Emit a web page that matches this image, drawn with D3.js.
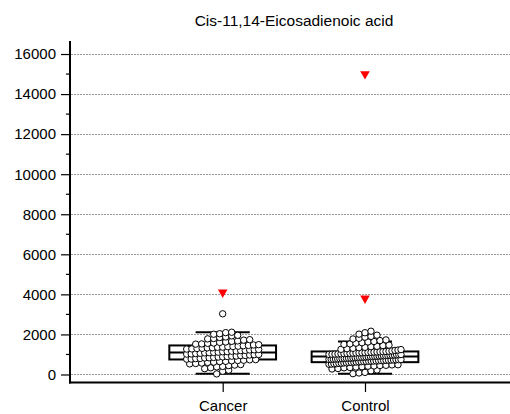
<!DOCTYPE html>
<html><head><meta charset="utf-8">
<script src="https://cdn.jsdelivr.net/npm/d3@7"></script>
<style>body{margin:0;background:#fff}svg{display:block}text{font-family:"Liberation Sans",Arial,sans-serif;fill:#000}</style>
</head><body>
<svg id="c" width="510" height="414"></svg>
<script>
const title = "Cis-11,14-Eicosadienoic acid";
const categories = ["Cancer", "Control"];
const cancerValues = [30, 160, 215, 290, 335, 380, 405, 445, 470, 495, 530, 548, 571, 604, 618, 644, 657, 683, 698, 712, 733, 741, 765, 772, 794, 801, 826, 833, 852, 870, 878, 899, 913, 921, 946, 951, 973, 988, 997, 1018, 1026, 1047, 1058, 1079, 1088, 1102, 1113, 1134, 1141, 1163, 1172, 1194, 1203, 1225, 1233, 1248, 1269, 1277, 1298, 1306, 1328, 1337, 1359, 1366, 1388, 1397, 1412, 1436, 1452, 1474, 1489, 1515, 1527, 1556, 1571, 1603, 1622, 1655, 1677, 1716, 1738, 1779, 1797, 1846, 1873, 1929, 1955, 2010, 2035, 2090, 2110, 3030];
const controlValues = [40, 75, 105, 185, 225, 275, 296, 334, 347, 372, 388, 414, 426, 447, 458, 479, 486, 508, 517, 533, 541, 556, 563, 578, 583, 597, 602, 616, 621, 633, 636, 646, 650, 661, 665, 672, 679, 687, 692, 699, 706, 713, 719, 726, 732, 738, 745, 751, 759, 763, 771, 778, 786, 791, 800, 806, 815, 819, 829, 834, 843, 851, 859, 867, 874, 883, 891, 898, 906, 913, 921, 928, 936, 943, 950, 958, 966, 972, 981, 988, 996, 1004, 1011, 1019, 1026, 1034, 1041, 1049, 1056, 1063, 1071, 1078, 1087, 1093, 1102, 1108, 1117, 1123, 1132, 1138, 1148, 1162, 1178, 1203, 1218, 1243, 1257, 1288, 1306, 1338, 1357, 1389, 1408, 1443, 1466, 1503, 1527, 1563, 1587, 1624, 1648, 1693, 1726, 1774, 1806, 1862, 1905, 1964, 2015, 2085, 2160];
const groupValues = [cancerValues, controlValues];
const whiskerLow = [35, 35];
const q1 = [750, 615];
const medians = [1100, 900];
const q3 = [1450, 1150];
const whiskerHigh = [2115, 1650];
const outlierValues = [[4100], [15000, 3800]];
const yTicks = [0, 2000, 4000, 6000, 8000, 10000, 12000, 14000, 16000];
const yMinorTicks = [1000, 3000, 5000, 7000, 9000, 11000, 13000, 15000];

const svg = d3.select("#c");
const x = d3.scaleLinear().domain([-0.073, 3.019]).range([70, 510]);
const y = d3.scaleLinear().domain([-400, 16650]).range([382.5, 41]);
const boxW = 0.75, capW = 0.38;

// gridlines
svg.append("g").selectAll("line").data(yTicks).join("line")
  .attr("x1", x(-0.073) + 1).attr("x2", 510)
  .attr("y1", d => Math.round(y(d)) + 0.5).attr("y2", d => Math.round(y(d)) + 0.5)
  .attr("stroke", "#9a9a9a").attr("stroke-width", 1).attr("stroke-dasharray", "2,1");

// title
svg.append("text").attr("x", 294).attr("y", 26).attr("text-anchor", "middle")
  .style("font-size", "15.5px").text(title);

// boxes
const g = svg.append("g");
categories.forEach((c, i) => {
  const cx = x(i + 1);
  const half = (x(boxW / 2) - x(0));
  const capHalf = (x(capW / 2) - x(0));
  g.append("line").attr("x1", cx).attr("x2", cx).attr("y1", y(q3[i])).attr("y2", y(whiskerHigh[i])).attr("stroke", "#000").attr("stroke-width", 1.5);
  g.append("line").attr("x1", cx).attr("x2", cx).attr("y1", y(q1[i])).attr("y2", y(whiskerLow[i])).attr("stroke", "#000").attr("stroke-width", 1.5);
  g.append("line").attr("x1", cx - capHalf).attr("x2", cx + capHalf).attr("y1", y(whiskerHigh[i])).attr("y2", y(whiskerHigh[i])).attr("stroke", "#000").attr("stroke-width", 2);
  g.append("line").attr("x1", cx - capHalf).attr("x2", cx + capHalf).attr("y1", y(whiskerLow[i])).attr("y2", y(whiskerLow[i])).attr("stroke", "#000").attr("stroke-width", 2);
  g.append("rect").attr("x", cx - half).attr("width", 2 * half)
    .attr("y", y(q3[i])).attr("height", y(q1[i]) - y(q3[i]))
    .attr("fill", "#fff").attr("stroke", "#000").attr("stroke-width", 2);
  g.append("line").attr("x1", cx - half).attr("x2", cx + half).attr("y1", y(medians[i])).attr("y2", y(medians[i])).attr("stroke", "#000").attr("stroke-width", 2);
});

// points: deterministic binned swarm
const binSize = 250, maxHalf = 36, step = 6;
categories.forEach((c, i) => {
  const cx = x(i + 1);
  const vals = groupValues[i].slice().sort((a, b) => a - b);
  const bins = d3.groups(vals, v => Math.floor(v / binSize));
  const pts = [];
  bins.forEach(([k, arr]) => {
    const n = arr.length;
    const sp = n > 1 ? Math.min(step, 2 * maxHalf / (n - 1)) : 0;
    arr.forEach((v, j) => pts.push({v, dx: (j - (n - 1) / 2) * sp}));
  });
  svg.append("g").selectAll("circle").data(pts).join("circle")
    .attr("cx", d => cx + d.dx).attr("cy", d => y(d.v)).attr("r", 3.2)
    .attr("fill", "#fff").attr("stroke", "#000").attr("stroke-width", 1);
});

// outliers (red down triangles)
const tri = d3.symbol().type(d3.symbolTriangle).size(40);
categories.forEach((c, i) => {
  svg.append("g").selectAll("path").data(outlierValues[i]).join("path")
    .attr("d", tri)
    .attr("transform", d => `translate(${x(i + 1)},${y(d)}) rotate(180)`)
    .attr("fill", "#ff0000");
});

// y axis
const yAxis = svg.append("g").attr("transform", "translate(70,0)");
yAxis.call(d3.axisLeft(y).tickValues(yTicks).tickSize(9).tickPadding(5).tickFormat(d3.format("d")));
yAxis.select(".domain").remove();
yAxis.selectAll(".tick line").attr("stroke-width", 1.2);
yAxis.selectAll(".tick text").style("font-size", "15px").style("font-family", '"Liberation Sans",Arial,sans-serif');
svg.append("g").selectAll("line").data(yMinorTicks).join("line")
  .attr("x1", 66).attr("x2", 70).attr("y1", d => y(d)).attr("y2", d => y(d))
  .attr("stroke", "#000").attr("stroke-width", 1.2);
svg.append("line").attr("x1", 70).attr("x2", 70).attr("y1", y(16650)).attr("y2", 383.5)
  .attr("stroke", "#000").attr("stroke-width", 2);

// x axis
svg.append("line").attr("x1", 69).attr("x2", 510).attr("y1", 382.5).attr("y2", 382.5)
  .attr("stroke", "#000").attr("stroke-width", 2);
const xAxis = svg.append("g").attr("transform", "translate(0,383)");
xAxis.call(d3.axisBottom(x).tickValues([1, 2]).tickSize(9).tickPadding(8).tickFormat(d => categories[d - 1]));
xAxis.select(".domain").remove();
xAxis.selectAll(".tick line").attr("stroke-width", 1.2);
xAxis.selectAll(".tick text").style("font-size", "15px").style("font-family", '"Liberation Sans",Arial,sans-serif');
</script>
</body></html>
